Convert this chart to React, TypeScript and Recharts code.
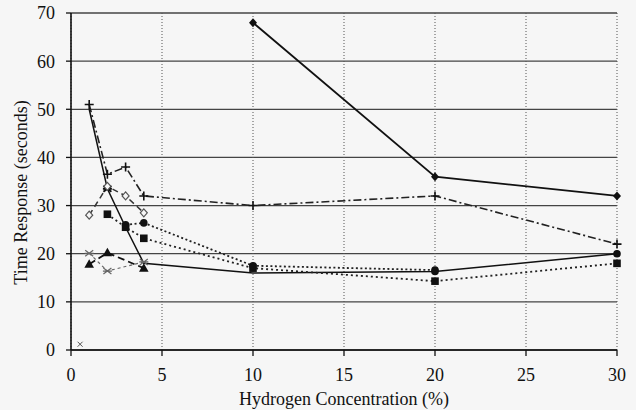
import React from 'react';
import { CartesianGrid, Line, LineChart, XAxis, YAxis } from 'recharts';

// axis ticks
const concTicks = [0, 5, 10, 15, 20, 25, 30];
const timeTicks = [0, 10, 20, 30, 40, 50, 60, 70];

// each series: hydrogen concentration (%) and time response (s)
const solidTopConc = [10, 20, 30];
const solidTopTime = [68, 36, 32];

const dashDotConc = [1, 2, 3, 4, 10, 20, 30];
const dashDotTime = [51, 36.5, 38, 32, 30, 32, 22];

const solidLowConc = [1, 2, 3, 4, 10, 20, 30];
const solidLowTime = [50, 33.5, 25.5, 18, 16, 16.3, 20];

const openDiamondConc = [1, 2, 3, 4];
const openDiamondTime = [28, 34, 32, 28.5];

const squareConc = [2, 3, 4, 10, 20, 30];
const squareTime = [28.2, 25.5, 23.2, 17, 14.3, 18];

const circleConc = [3, 4, 10, 20];
const circleTime = [26, 26.4, 17.5, 16.6];

const triangleConc = [1, 2, 4];
const triangleTime = [17.8, 20.2, 17];

const openStarConc = [1, 2, 4];
const openStarTime = [20.1, 16.4, 18.3];

const crossConc = [0.5];
const crossTime = [1.2];

// marker drawn at each point of the lower solid series
const solidLowMarks = ['none', 'star', 'none', 'none', 'none', 'circle', 'circle'];

const pts = (xs: number[], ys: number[]) => xs.map((x, i) => ({ conc: x, time: ys[i] }));

const BG = '#f6f6f6';
const FONT = '"Liberation Serif", "Times New Roman", serif';

const drawMark = (shape: string, cx: number, cy: number, key: string) => {
  switch (shape) {
    case 'diamond':
      return <path key={key} d={`M${cx},${cy - 4.5}L${cx + 4},${cy}L${cx},${cy + 4.5}L${cx - 4},${cy}Z`} fill="#111" />;
    case 'openDiamond':
      return (
        <path key={key} d={`M${cx},${cy - 4}L${cx + 3.5},${cy}L${cx},${cy + 4}L${cx - 3.5},${cy}Z`} fill={BG} stroke="#555" strokeWidth={1.2} />
      );
    case 'plus':
      return <path key={key} d={`M${cx - 4.5},${cy}H${cx + 4.5}M${cx},${cy - 4.5}V${cy + 4.5}`} stroke="#111" strokeWidth={1.6} />;
    case 'circle':
      return <circle key={key} cx={cx} cy={cy} r={3.8} fill="#111" />;
    case 'square':
      return <rect key={key} x={cx - 3.8} y={cy - 3.8} width={7.6} height={7.6} fill="#111" />;
    case 'triangle':
      return <path key={key} d={`M${cx},${cy - 5}L${cx + 4.8},${cy + 3.5}L${cx - 4.8},${cy + 3.5}Z`} fill="#111" />;
    case 'star':
      return (
        <path
          key={key}
          d={`M${cx - 4},${cy - 3}L${cx + 4},${cy + 3}M${cx + 4},${cy - 3}L${cx - 4},${cy + 3}M${cx - 4.5},${cy}H${cx + 4.5}`}
          stroke="#111"
          strokeWidth={2}
        />
      );
    case 'openStar':
      return (
        <path
          key={key}
          d={`M${cx - 4},${cy - 3}L${cx + 4},${cy + 3}M${cx + 4},${cy - 3}L${cx - 4},${cy + 3}M${cx - 4.5},${cy}H${cx + 4.5}`}
          stroke="#666"
          strokeWidth={1.2}
        />
      );
    case 'cross':
      return <path key={key} d={`M${cx - 2.5},${cy - 2.5}L${cx + 2.5},${cy + 2.5}M${cx + 2.5},${cy - 2.5}L${cx - 2.5},${cy + 2.5}`} stroke="#555" strokeWidth={1} />;
    default:
      return <g key={key} />;
  }
};

const marker = (shape: string | string[]) => (props: any) => {
  const { cx, cy, index } = props;
  const s = Array.isArray(shape) ? shape[index] : shape;
  const key = `${String(shape)}-${index}`;
  if (cx == null || cy == null) return <g key={key} />;
  return drawMark(s, cx, cy, key);
};

const YLabel = (props: any) => {
  const vb = props.viewBox || { x: 0, y: 13, width: 71, height: 337 };
  const x = vb.x + 21;
  const y = vb.y + vb.height / 2 + 11;
  return (
    <text
      x={x}
      y={y}
      transform={`rotate(-90, ${x}, ${y})`}
      textAnchor="middle"
      dominantBaseline="central"
      fontFamily={FONT}
      fontSize={18}
      fill="#111"
      style={{ fill: '#111' }}
    >
      Time Response (seconds)
    </text>
  );
};

const tickStyle = { fontFamily: FONT, fontSize: 18, fill: '#111' };

export default function App() {
  return (
    <div style={{ position: 'absolute', left: 0, top: 0, width: 636, height: 410, background: BG }}>
      <LineChart width={636} height={410} margin={{ top: 13, right: 19, bottom: 0, left: 0 }}>
        <CartesianGrid vertical={false} stroke="#444" strokeWidth={1.3} />
        <CartesianGrid horizontal={false} stroke="#555" strokeDasharray="1 2" strokeWidth={1} />
        <XAxis
          type="number"
          dataKey="conc"
          domain={[0, 30]}
          ticks={concTicks}
          allowDuplicatedCategory={false}
          height={60}
          tickSize={6}
          tickMargin={12}
          tick={tickStyle}
          axisLine={{ stroke: '#111', strokeWidth: 1.6 }}
          tickLine={{ stroke: '#111', strokeWidth: 1.3 }}
          label={{
            value: 'Hydrogen Concentration (%)',
            position: 'insideBottom',
            offset: 5,
            fill: '#111',
            fontSize: 18,
            fontFamily: FONT,
          }}
        />
        <YAxis
          type="number"
          dataKey="time"
          domain={[0, 70]}
          ticks={timeTicks}
          width={71}
          tickSize={5}
          tickMargin={11}
          tick={tickStyle}
          axisLine={{ stroke: '#111', strokeWidth: 1.6 }}
          tickLine={{ stroke: '#111', strokeWidth: 1.3 }}
          label={<YLabel />}
        />
        <Line data={pts(solidTopConc, solidTopTime)} dataKey="time" stroke="#111" strokeWidth={1.8} dot={marker('diamond')} activeDot={false} isAnimationActive={false} />
        <Line data={pts(dashDotConc, dashDotTime)} dataKey="time" stroke="#222" strokeWidth={1.6} strokeDasharray="8 3 2 3" dot={marker('plus')} activeDot={false} isAnimationActive={false} />
        <Line data={pts(solidLowConc, solidLowTime)} dataKey="time" stroke="#111" strokeWidth={1.5} dot={marker(solidLowMarks)} activeDot={false} isAnimationActive={false} />
        <Line data={pts(openDiamondConc, openDiamondTime)} dataKey="time" stroke="#333" strokeWidth={1.5} strokeDasharray="6 4" dot={marker('openDiamond')} activeDot={false} isAnimationActive={false} />
        <Line data={pts(squareConc, squareTime)} dataKey="time" stroke="#222" strokeWidth={1.8} strokeDasharray="2 3" dot={marker('square')} activeDot={false} isAnimationActive={false} />
        <Line data={pts(circleConc, circleTime)} dataKey="time" stroke="#222" strokeWidth={1.8} strokeDasharray="2 2.5" dot={marker('circle')} activeDot={false} isAnimationActive={false} />
        <Line data={pts(triangleConc, triangleTime)} dataKey="time" stroke="#111" strokeWidth={1.8} strokeDasharray="7 4" dot={marker('triangle')} activeDot={false} isAnimationActive={false} />
        <Line data={pts(openStarConc, openStarTime)} dataKey="time" stroke="#666" strokeWidth={1.2} strokeDasharray="3 3" dot={marker('openStar')} activeDot={false} isAnimationActive={false} />
        <Line data={pts(crossConc, crossTime)} dataKey="time" stroke="none" dot={marker('cross')} activeDot={false} isAnimationActive={false} />
      </LineChart>
    </div>
  );
}
